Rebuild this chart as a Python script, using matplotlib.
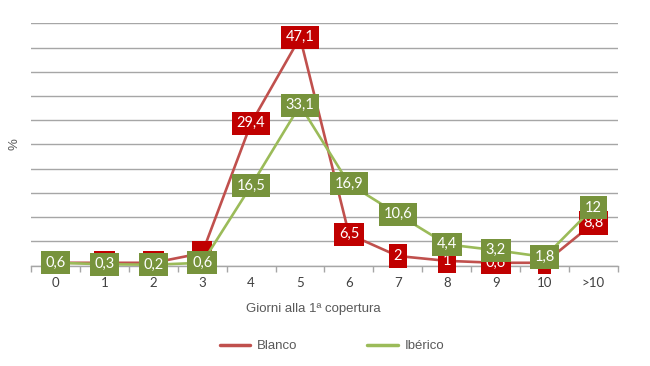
import matplotlib
matplotlib.use("Agg")
import matplotlib.pyplot as plt
import numpy as np

categories = ["0", "1", "2", "3", "4", "5", "6", "7", "8", "9", "10", ">10"]
blanco = [0.6, 0.6, 0.6, 2.6, 29.4, 47.1, 6.5, 2, 1, 0.6, 0.6, 8.8]
iberico = [0.6, 0.3, 0.2, 0.6, 16.5, 33.1, 16.9, 10.6, 4.4, 3.2, 1.8, 12]
blanco_labels = ["", "", "", "", "29,4", "47,1", "6,5", "2", "1", "0,6", ",", "8,8"]
iberico_labels = ["0,6", "0,3", "0,2", "0,6", "16,5", "33,1", "16,9", "10,6", "4,4", "3,2", "1,8", "12"]

W, H = 650, 366
fig = plt.figure(figsize=(W / 100, H / 100), dpi=100)
left, right, top, bottom = 31, 618, 23.3, 265.7
ax = fig.add_axes([left / W, 1 - bottom / H, (right - left) / W, (bottom - top) / H])

x = np.arange(len(categories))
red_line, red_box = "#C0504D", "#C00000"
green_line, green_box = "#9BBB59", "#77933C"
lab_font = ["Lato", "DejaVu Sans"]

ax.plot(x, blanco, color=red_line, lw=1.9, label="Blanco", zorder=3, solid_capstyle="round")
for xi, v, t in zip(x, blanco, blanco_labels):
    ax.text(xi, v, t if t else "   ", ha="center", va="center", color="white",
            fontsize=10.5, family=lab_font, zorder=4,
            bbox=dict(boxstyle="square,pad=0.32", fc=red_box, ec="none"))
ax.plot(x, iberico, color=green_line, lw=1.9, label="Ibérico", zorder=5, solid_capstyle="round")
for xi, v, t in zip(x, iberico, iberico_labels):
    ax.text(xi, v, t, ha="center", va="center", color="white",
            fontsize=10.5, family=lab_font, zorder=6,
            bbox=dict(boxstyle="square,pad=0.32", fc=green_box, ec="none"))

ax.set_xlim(-0.5, len(categories) - 0.5)
ax.set_ylim(0, 50)
ax.set_yticks(np.arange(0, 51, 5))
ax.yaxis.grid(True, color="#A6A6A6", lw=1.0)
ax.set_axisbelow(True)
ax.tick_params(axis="y", length=0, labelleft=False)
ax.set_xticks(x)
ax.set_xticklabels(categories, fontsize=9.5, color="#404040", family=lab_font)
ax.set_xticks(np.arange(-0.5, len(categories), 1), minor=True)
ax.tick_params(axis="x", which="major", length=0, pad=8)
ax.tick_params(axis="x", which="minor", length=4, color="#A6A6A6", width=1)
for s in ["top", "right", "left"]:
    ax.spines[s].set_visible(False)
ax.spines["bottom"].set_color("#A6A6A6")
ax.spines["bottom"].set_linewidth(1.0)

fig.text(15 / W, 1 - 144 / H, "%", rotation=90, ha="center", va="center",
         fontsize=9.5, color="#595959", family=["Liberation Sans", "DejaVu Sans"])
fig.text(313 / W, 1 - 309 / H, "Giorni alla 1ª copertura", ha="center", va="center",
         fontsize=9.5, color="#595959", family=["Liberation Sans", "DejaVu Sans"])

h, l = ax.get_legend_handles_labels()
leg = fig.legend(h, l, loc="center", bbox_to_anchor=(332 / W, 1 - 346 / H), ncol=2,
                 frameon=False, handlelength=2.3, handletextpad=0.5, columnspacing=5.3,
                 prop={"family": ["Liberation Sans", "DejaVu Sans"], "size": 9.5})
for t in leg.get_texts():
    t.set_color("#595959")
for lh in leg.get_lines():
    lh.set_linewidth(2.5)

fig.savefig("out.png", dpi=100)
